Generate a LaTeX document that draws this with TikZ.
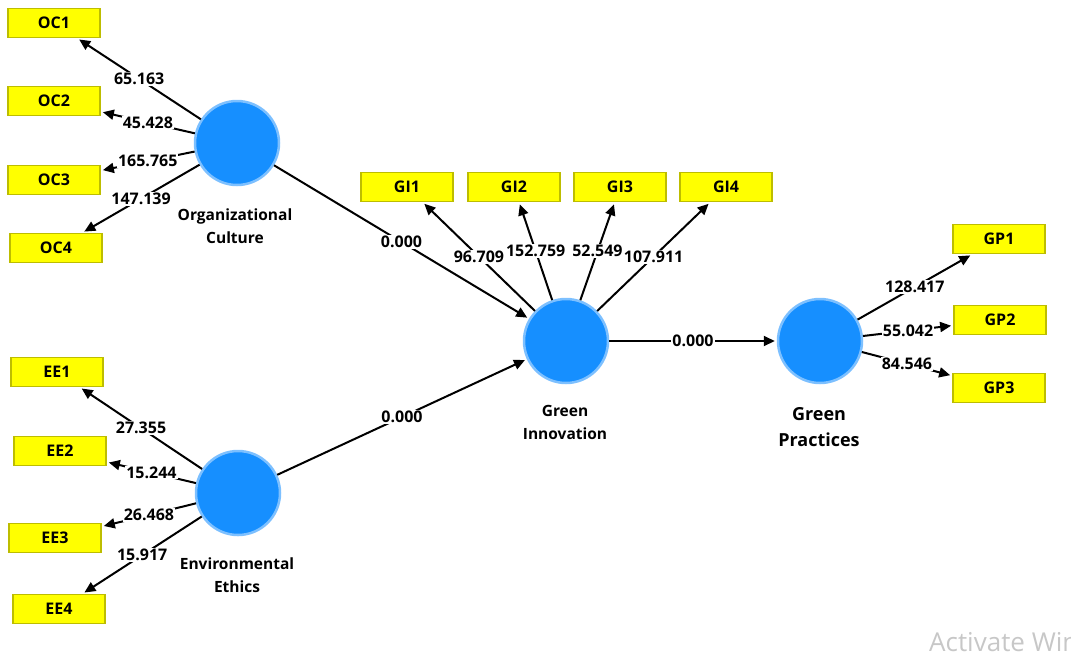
\documentclass[tikz,border=0pt]{standalone}
\usepackage{fontspec}
\setmainfont{Open Sans}
\usetikzlibrary{arrows.meta}
\definecolor{indf}{HTML}{FFFF00}
\definecolor{indb}{HTML}{BDBD00}
\definecolor{latf}{HTML}{168FFF}
\definecolor{latb}{HTML}{7DC0FF}
\tikzset{
 indbox/.style={draw=indb, fill=indf, line width=1.8pt, minimum width=92pt, minimum height=29pt, inner sep=0pt, font=\fontsize{16}{18}\selectfont\bfseries},
 latc/.style={circle, fill=latf, draw=latb, line width=2.5pt, minimum size=84pt, inner sep=0pt},
 latlab/.style={align=center, font=\fontsize{15.5}{23}\selectfont\bfseries},
 arr/.style={line width=2pt, -{Triangle[length=11pt,width=10pt]}, shorten >=2pt},
 val/.style={fill=white, inner sep=1pt, font=\fontsize{16}{18}\selectfont\bfseries, midway}
}
\begin{document}
\begin{tikzpicture}[x=1pt,y=-1pt]
\useasboundingbox (0,0) rectangle (1071,657);
% indicators
\node[indbox] (oc1) at (54,23) {OC1};
\node[indbox] (oc2) at (54,101) {OC2};
\node[indbox] (oc3) at (54,180) {OC3};
\node[indbox] (oc4) at (56,248) {OC4};
\node[indbox] (ee1) at (57,372) {EE1};
\node[indbox] (ee2) at (60,451) {EE2};
\node[indbox] (ee3) at (55,538) {EE3};
\node[indbox] (ee4) at (59,609) {EE4};
\node[indbox] (gi1) at (407,187) {GI1};
\node[indbox] (gi2) at (514,187) {GI2};
\node[indbox] (gi3) at (620,187) {GI3};
\node[indbox] (gi4) at (726,187) {GI4};
\node[indbox] (gp1) at (999,239) {GP1};
\node[indbox] (gp2) at (1000,320) {GP2};
\node[indbox] (gp3) at (999,388) {GP3};
% latent variables
\node[latc] (oc) at (237,143) {};
\node[latc] (ee) at (238,493) {};
\node[latc] (gi) at (566,341) {};
\node[latc] (gp) at (820,341) {};
\node[latlab] (ocl) at (235,226) {Organizational\\Culture};
\node[latlab] (eel) at (237,575) {Environmental\\Ethics};
\node[latlab] (gil) at (565,422) {Green\\Innovation};
\node[latlab, font=\fontsize{18}{26}\selectfont\bfseries] (gpl) at (819,427) {Green\\Practices};
% outer loadings
\draw[arr] (oc) -- node[val]{65.163} (oc1);
\draw[arr] (oc) -- node[val]{45.428} (oc2);
\draw[arr] (oc) -- node[val]{165.765} (oc3);
\draw[arr] (oc) -- node[val]{147.139} (oc4);
\draw[arr] (ee) -- node[val]{27.355} (ee1);
\draw[arr] (ee) -- node[val]{15.244} (ee2);
\draw[arr] (ee) -- node[val]{26.468} (ee3);
\draw[arr] (ee) -- node[val]{15.917} (ee4);
\draw[arr] (gi) -- node[val]{96.709} (gi1);
\draw[arr] (gi) -- node[val]{152.759} (gi2);
\draw[arr] (gi) -- node[val]{52.549} (gi3);
\draw[arr] (gi) -- node[val]{107.911} (gi4);
\draw[arr] (gp) -- node[val]{128.417} (gp1);
\draw[arr] (gp) -- node[val]{55.042} (gp2);
\draw[arr] (gp) -- node[val]{84.546} (gp3);
% structural paths
\draw[arr] (oc) -- node[val]{0.000} (gi);
\draw[arr] (ee) -- node[val]{0.000} (gi);
\draw[arr] (gi) -- node[val]{0.000} (gp);
% watermark (cut off at the edge, as in the reference)
\node[anchor=north west, inner sep=0pt, text=black!22, font=\fontsize{26}{28}\selectfont] (wm) at (929,632) {Activate Windows};
\end{tikzpicture}
\end{document}
